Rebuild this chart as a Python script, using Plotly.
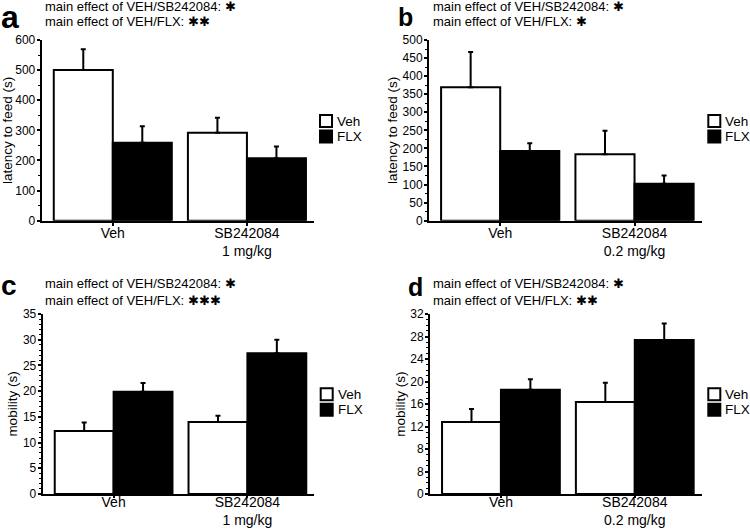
import plotly.graph_objects as go

# ---------------- data ----------------
groups_1mg = ["Veh", "SB242084<br>1 mg/kg"]
groups_02mg = ["Veh", "SB242084<br>0.2 mg/kg"]

# panel a: latency to feed (s), SB242084 1 mg/kg
a_veh = [500, 292]
a_veh_err = [69, 50]
a_flx = [259, 207]
a_flx_err = [55, 39]

# panel b: latency to feed (s), SB242084 0.2 mg/kg
b_veh = [369, 184]
b_veh_err = [98, 65]
b_flx = [193, 102]
b_flx_err = [21, 23]

# panel c: mobility (s), SB242084 1 mg/kg
c_veh = [12.25, 14.0]
c_veh_err = [1.65, 1.2]
c_flx = [19.9, 27.35]
c_flx_err = [1.7, 2.65]

# panel d: mobility (s), SB242084 0.2 mg/kg
d_veh = [12.8, 16.36]
d_veh_err = [2.3, 3.44]
d_flx = [18.55, 27.4]
d_flx_err = [1.85, 2.9]

d_tickvals = [0, 4, 8, 12, 16, 20, 24, 28, 32]
d_ticktext = ["0", "8", "8", "12", "16", "20", "24", "28", "32"]

series_names = ["Veh", "FLX"]
panel_letters = ["a", "b", "c", "d"]
line1 = ["main effect of VEH/SB242084: ✱"] * 4
line2 = ["main effect of VEH/FLX: ✱✱", "main effect of VEH/FLX: ✱",
         "main effect of VEH/FLX: ✱✱✱", "main effect of VEH/FLX: ✱✱"]

# ---------------- layout helpers ----------------
W, H = 750, 530
FONT = "Liberation Sans, Arial, sans-serif"


def px(x):
    return x / W


def py(y):
    return 1 - y / H


fig = go.Figure()

panels = [
    dict(cats=groups_1mg, veh=a_veh, vehe=a_veh_err, flx=a_flx, flxe=a_flx_err, ax=""),
    dict(cats=groups_02mg, veh=b_veh, vehe=b_veh_err, flx=b_flx, flxe=b_flx_err, ax="2"),
    dict(cats=groups_1mg, veh=c_veh, vehe=c_veh_err, flx=c_flx, flxe=c_flx_err, ax="3"),
    dict(cats=groups_02mg, veh=d_veh, vehe=d_veh_err, flx=d_flx, flxe=d_flx_err, ax="4"),
]

for p in panels:
    for name, vals, errs, fill in [("Veh", p["veh"], p["vehe"], "white"),
                                   ("FLX", p["flx"], p["flxe"], "black")]:
        fig.add_trace(go.Bar(
            x=p["cats"], y=vals, name=name, showlegend=False,
            marker=dict(color=fill, line=dict(color="black", width=2)),
            error_y=dict(type="data", array=errs, arrayminus=[0] * len(errs),
                         symmetric=False, color="black", thickness=2, width=2.5),
            xaxis="x" + p["ax"], yaxis="y" + p["ax"],
        ))

# axis domains (pixel geometry of reference)
xdom = {"": (41.7, 314), "2": (429, 701.7), "3": (42.7, 314.3), "4": (430, 701.7)}
ydom = {"": (220.7, 40), "2": (220.7, 40), "3": (494, 314), "4": (494, 314)}
yranges = {"": [0, 600], "2": [0, 500], "3": [0, 35], "4": [0, 32]}
ydt = {"": 100, "2": 50, "3": 5, "4": 4}
yminor = {"": 50, "2": 25, "3": 1, "4": 1}
ytitles = {"": "latency to feed (s)", "2": "latency to feed (s)",
           "3": "mobility (s)", "4": "mobility (s)"}
xstandoff = {"": -5, "2": -5, "3": -8, "4": -8}
xticklen = {"": 3, "2": 3, "3": 2, "4": 2}

layout = dict(
    width=W, height=H, margin=dict(l=0, r=0, t=0, b=0),
    paper_bgcolor="white", plot_bgcolor="white",
    barmode="group", bargap=0.12, bargroupgap=0,
    font=dict(family=FONT, color="black"),
    showlegend=False,
)

for k in ["", "2", "3", "4"]:
    x0, x1 = xdom[k]
    yb, yt = ydom[k]
    xa = dict(
        domain=[px(x0), px(x1)], anchor="y" + k, type="category",
        range=[-0.53, 1.5], showline=True, linecolor="black", linewidth=2,
        ticks="outside", ticklen=xticklen[k], tickwidth=1.5, tickcolor="black",
        tickfont=dict(size=14, family=FONT), showgrid=False, zeroline=False,
        ticklabelstandoff=xstandoff[k], automargin=False,
    )
    ya = dict(
        domain=[py(yb), py(yt)], anchor="x" + k, range=yranges[k],
        showline=True, linecolor="black", linewidth=2,
        ticks="outside", ticklen=3, tickwidth=1.5, tickcolor="black",
        tickfont=dict(size=12, family=FONT), showgrid=False, zeroline=False,
        minor=dict(dtick=yminor[k], ticks="outside", ticklen=2, tickwidth=1.2,
                   tickcolor="black", showgrid=False),
        title=dict(text=ytitles[k], font=dict(size=13.5, family=FONT), standoff=2),
        ticklabelstandoff=-1, automargin=False,
    )
    if k == "4":
        ya["tickvals"] = d_tickvals
        ya["ticktext"] = d_ticktext
    else:
        ya["dtick"] = ydt[k]
        ya["tick0"] = 0
    layout["xaxis" + k] = xa
    layout["yaxis" + k] = ya

fig.update_layout(**layout)

# ---------------- annotations: panel letters & effect texts ----------------
letter_pos = [(-1, 17), (396, 17), (-1, 285), (406, 287)]
letter_size = [32, 25, 28, 25]
text_pos = [(43, 6.5, 22), (431, 6.5, 22), (43, 283, 300), (431, 283, 300)]
for i in range(4):
    lx, ly = letter_pos[i]
    fig.add_annotation(x=px(lx), y=py(ly), xref="paper", yref="paper",
                       text="<b>%s</b>" % panel_letters[i], showarrow=False,
                       xanchor="left", yanchor="middle",
                       font=dict(size=letter_size[i], family=FONT, color="black"))
    tx, t1, t2 = text_pos[i]
    for txt, ty in [(line1[i], t1), (line2[i], t2)]:
        fig.add_annotation(x=px(tx), y=py(ty), xref="paper", yref="paper",
                           text=txt, showarrow=False, xanchor="left",
                           yanchor="middle",
                           font=dict(size=13, family=FONT, color="black"))

# ---------------- manual legends (box + label) ----------------
legend_pos = [(320, 115), (708.3, 115), (320.7, 388.3), (708.3, 388.3)]
for lx, ly in legend_pos:
    for j, (name, fill) in enumerate(zip(series_names, ["white", "black"])):
        y0 = ly + j * 15.5
        fig.add_shape(type="rect", xref="paper", yref="paper",
                      x0=px(lx), x1=px(lx + 12), y0=py(y0), y1=py(y0 + 12),
                      fillcolor=fill, line=dict(color="black", width=2))
        fig.add_annotation(x=px(lx + 15), y=py(y0 + 6), xref="paper", yref="paper",
                           text=name, showarrow=False, xanchor="left",
                           yanchor="middle",
                           font=dict(size=13.5, family=FONT, color="black"))

fig.write_html(
    "out.html",
    config={"displayModeBar": False},
    post_script="document.body.style.margin='0';document.body.style.overflow='hidden';",
)
